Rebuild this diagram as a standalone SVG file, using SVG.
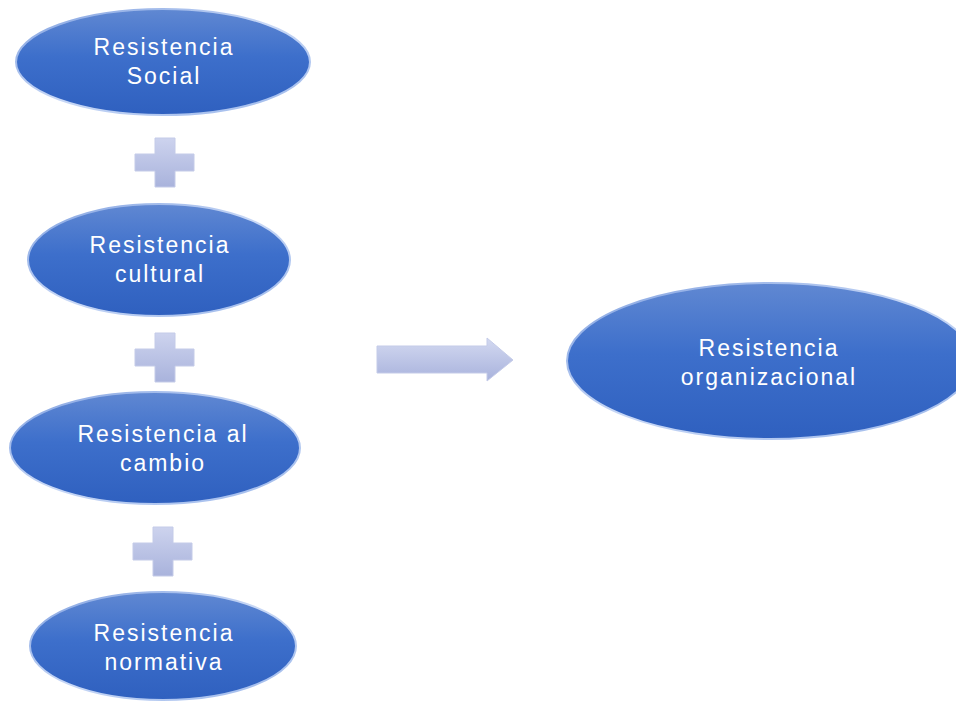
<svg xmlns="http://www.w3.org/2000/svg" width="956" height="704" viewBox="0 0 956 704">
<defs>
<linearGradient id="g" x1="0" y1="0" x2="0" y2="1">
<stop offset="0" stop-color="#6088d2"/>
<stop offset="0.45" stop-color="#3d6fcb"/>
<stop offset="1" stop-color="#2f60bf"/>
</linearGradient>
<linearGradient id="edge" x1="0" y1="0" x2="1" y2="1">
<stop offset="0" stop-color="#7fa0e0"/>
<stop offset="0.5" stop-color="#c8d8f6"/>
<stop offset="1" stop-color="#9ab6ea"/>
</linearGradient>
<linearGradient id="pl" x1="0" y1="0" x2="0" y2="1">
<stop offset="0" stop-color="#cdd3ee"/>
<stop offset="1" stop-color="#a9b3dc"/>
</linearGradient>
<linearGradient id="ar" x1="0" y1="0" x2="0" y2="1">
<stop offset="0" stop-color="#d3d9f1"/>
<stop offset="1" stop-color="#a8b2dc"/>
</linearGradient>
</defs>
<style>
.n{fill:url(#g);stroke:url(#edge);stroke-width:2}
.t{font-family:"Liberation Sans",Arial,sans-serif;font-size:23px;letter-spacing:2px;fill:#ffffff;text-anchor:middle}
.p{fill:url(#pl);stroke:#c4cbe8;stroke-width:1}
</style>
<g id="n1"><ellipse class="n" cx="163" cy="62" rx="147" ry="53"/><text class="t" x="164" y="55">Resistencia</text><text class="t" x="164" y="84">Social</text></g>
<g id="n2"><ellipse class="n" cx="159" cy="260" rx="131" ry="56"/><text class="t" x="160" y="253">Resistencia</text><text class="t" x="160" y="282">cultural</text></g>
<g id="n3"><ellipse class="n" cx="155" cy="448" rx="145" ry="56"/><text class="t" x="163" y="442">Resistencia al</text><text class="t" x="163" y="471">cambio</text></g>
<g id="n4"><ellipse class="n" cx="163" cy="646" rx="133" ry="54"/><text class="t" x="164" y="641">Resistencia</text><text class="t" x="164" y="670">normativa</text></g>
<g id="n5"><ellipse class="n" cx="770" cy="361" rx="203" ry="78"/><text class="t" x="769" y="356">Resistencia</text><text class="t" x="769" y="385">organizacional</text></g>
<g id="connectors">
<path class="p" d="M155 138H175V154H194V171H175V187H155V171H135V154H155Z"/>
<path class="p" d="M155 333H175V349H194V366H175V382H155V366H135V349H155Z"/>
<path class="p" d="M153 527H173V543H192V560H173V576H153V560H133V543H153Z"/>
<path fill="url(#ar)" stroke="#c4cbe8" stroke-width="1" d="M377 346H487V338L513 360L487 381V373H377Z"/>
</g>
</svg>
